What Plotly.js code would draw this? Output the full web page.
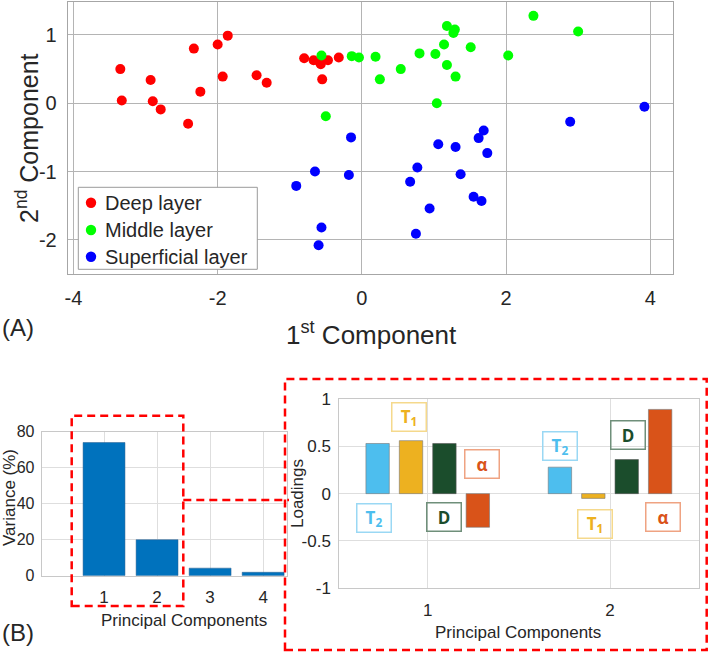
<!DOCTYPE html>
<html>
<head>
<meta charset="utf-8">
<script src="https://cdn.plot.ly/plotly-3.0.1.min.js"></script>
<style>html,body{margin:0;padding:0;background:#fff;}#chart{width:709px;height:655px;}</style>
</head>
<body>
<div id="chart"></div>
<script>
// ---- Data: (A) PCA scores ----
const deepX = [-3.35,-3.33,-2.93,-2.90,-2.79,-2.41,-2.33,-2.24,-2.00,-1.86,-1.93,-1.46,-1.32,-0.80,-0.67,-0.59,-0.57,-0.47,-0.32,-0.55];
const deepY = [0.50,0.04,0.34,0.03,-0.09,-0.30,0.80,0.17,0.86,0.99,0.39,0.41,0.30,0.66,0.63,0.61,0.57,0.63,0.67,0.35];
const middleX = [-0.56,-0.50,-0.14,-0.04,0.19,0.25,0.54,0.80,1.02,1.04,1.14,1.18,1.18,1.29,1.27,1.30,1.51,2.03,2.38,3.00];
const middleY = [0.70,-0.19,0.69,0.67,0.68,0.35,0.50,0.73,0.72,0.00,0.86,0.56,1.13,1.08,1.03,0.39,0.82,0.70,1.28,1.05];
const superX = [-0.91,-0.65,-0.18,-0.15,-0.56,-0.60,1.06,1.30,0.77,0.67,0.94,0.75,1.37,1.55,1.66,1.62,1.69,1.74,2.89,3.92];
const superY = [-1.21,-1.00,-1.05,-0.50,-1.82,-2.08,-0.60,-0.64,-0.94,-1.15,-1.54,-1.91,-1.04,-1.37,-1.43,-0.51,-0.40,-0.73,-0.27,-0.05];
const layerNames = ["Deep layer","Middle layer","Superficial layer"];
const layerColors = ["#FF0000","#00FF00","#0000FF"];

// ---- Data: (B) variance explained ----
const pcs = [1,2,3,4];
const variancePct = [74,20,4.2,1.9];

// ---- Data: (B) loadings ----
const loadPCs = [1,2];
const loadT2 = [0.53,0.28];
const loadT1 = [0.56,-0.05];
const loadD = [0.53,0.36];
const loadAlpha = [-0.355,0.89];
const loadNames = ["T2","T1","D","α"];

// tick labels
const topXTicks = [-4,-2,0,2,4];
const topXLabels = ["-4","-2","0","2","4"];
const topYTicks = [-2,-1,0,1];
const topYLabels = ["-2","-1","0","1"];
const varTicks = [0,20,40,60,80];
const loadTicks = [-1,-0.5,0,0.5,1];
const loadTickLabels = ["-1","-0.5","0","0.5","1"];

const W = 709, H = 655;
const px = v => v / W;
const py = v => 1 - v / H;

const font = "Liberation Sans, Arial, Helvetica, sans-serif";
const txt = "#262626";

const traces = [
  {x: deepX, y: deepY, name: layerNames[0], type: "scatter", mode: "markers",
   marker: {color: layerColors[0], size: 10}, xaxis: "x", yaxis: "y"},
  {x: middleX, y: middleY, name: layerNames[1], type: "scatter", mode: "markers",
   marker: {color: layerColors[1], size: 10}, xaxis: "x", yaxis: "y"},
  {x: superX, y: superY, name: layerNames[2], type: "scatter", mode: "markers",
   marker: {color: layerColors[2], size: 10}, xaxis: "x", yaxis: "y"},
  {x: pcs, y: variancePct, type: "bar", width: 0.79,
   marker: {color: "#0072BD", line: {color: "#2a5f8f", width: 0.5}}, xaxis: "x2", yaxis: "y2"},
  {x: loadPCs, y: loadT2, name: loadNames[0], type: "bar",
   marker: {color: "#4DBEEE", line: {color: "#777", width: 0.6}}, xaxis: "x3", yaxis: "y3"},
  {x: loadPCs, y: loadT1, name: loadNames[1], type: "bar",
   marker: {color: "#EDB120", line: {color: "#777", width: 0.6}}, xaxis: "x3", yaxis: "y3"},
  {x: loadPCs, y: loadD, name: loadNames[2], type: "bar",
   marker: {color: "#1B4D2C", line: {color: "#555", width: 0.6}}, xaxis: "x3", yaxis: "y3"},
  {x: loadPCs, y: loadAlpha, name: loadNames[3], type: "bar",
   marker: {color: "#D95319", line: {color: "#777", width: 0.6}}, xaxis: "x3", yaxis: "y3"}
];

const topAxis = {showgrid: true, gridcolor: "#b4b4b4", showline: true, mirror: true,
  linecolor: "#a6a6a6", linewidth: 1, zeroline: false, ticks: "", tickfont: {size: 20, color: txt}};
const botAxis = {showgrid: true, gridcolor: "#dedede", showline: true, mirror: true,
  linecolor: "#c8c8c8", linewidth: 1, zeroline: false, ticks: "", tickfont: {size: 17, color: txt}};

function boxNote(text, x, y, color, border) {
  return {text: "<b>" + text + "</b>", x: x, y: y, xref: "x3", yref: "y3", showarrow: false,
    font: {family: "Open Sans, Liberation Sans, sans-serif", size: 17, color: color},
    bordercolor: border, borderwidth: 1.5, borderpad: 0, bgcolor: "rgba(255,255,255,0)",
    width: 33, height: 27, align: "center", valign: "middle"};
}

// manual legend (box, symbols, labels) for panel (A)
const legBox = {x0: 78.3, x1: 257.3, y0: 187.3, y1: 269.3};
const legRowsY = [202.7, 230, 256.7];
const legendShapes = [
  {type: "rect", xref: "paper", yref: "paper", x0: px(legBox.x0), x1: px(legBox.x1),
   y0: py(legBox.y1), y1: py(legBox.y0), fillcolor: "#fff", line: {color: "#9a9a9a", width: 1}, layer: "above"}
].concat(layerNames.map((n, i) => ({type: "circle", xref: "paper", yref: "paper",
   x0: px(91 - 5.2), x1: px(91 + 5.2), y0: py(legRowsY[i] + 5.2), y1: py(legRowsY[i] - 5.2),
   fillcolor: layerColors[i], line: {width: 0}, layer: "above"})));
const legendTexts = layerNames.map((n, i) => ({text: n, x: px(102.5), y: py(legRowsY[i]),
   xref: "paper", yref: "paper", xanchor: "left", yanchor: "middle", showarrow: false,
   font: {size: 20, color: txt}}));

const dash = {color: "#FF0000", width: 2.5, dash: "8px,5px"};

const layout = {
  width: W, height: H,
  margin: {l: 0, r: 0, t: 0, b: 0},
  paper_bgcolor: "#fff", plot_bgcolor: "#fff",
  font: {family: font, color: txt},
  barmode: "group", bargap: 0.267, bargroupgap: 0.3,
  showlegend: false,
  xaxis: Object.assign({}, topAxis, {domain: [px(67.7), px(673.3)], range: [-4.08, 4.32],
    tickvals: topXTicks, ticktext: topXLabels, anchor: "y", ticklabelstandoff: 6}),
  yaxis: Object.assign({}, topAxis, {domain: [py(274), py(1.7)], range: [-2.5, 1.487],
    tickvals: topYTicks, ticktext: topYLabels, anchor: "x", ticklabelstandoff: 6}),
  xaxis2: Object.assign({}, botAxis, {domain: [px(41.7), px(287)], range: [-0.175, 4.45],
    tickvals: pcs, anchor: "y2", ticklabelstandoff: 6}),
  yaxis2: Object.assign({}, botAxis, {domain: [py(575.7), py(431.7)], range: [0, 80],
    tickvals: varTicks, anchor: "x2", ticklabelstandoff: 3, tickfont: {size: 16, color: txt}}),
  xaxis3: Object.assign({}, botAxis, {domain: [px(339.3), px(699)], range: [0.515, 2.488],
    tickvals: loadPCs, anchor: "y3", ticklabelstandoff: 6}),
  yaxis3: Object.assign({}, botAxis, {domain: [py(588.3), py(399)], range: [-1, 1],
    tickvals: loadTicks, ticktext: loadTickLabels, anchor: "x3", ticklabelstandoff: 4}),
  shapes: legendShapes.concat([
    {type: "rect", xref: "paper", yref: "paper", x0: px(71.7), x1: px(183.3), y0: py(606), y1: py(415.7),
     line: dash, layer: "above"},
    {type: "line", xref: "paper", yref: "paper", x0: px(183.3), x1: px(289), y0: py(500), y1: py(500),
     line: dash, layer: "above"},
    {type: "rect", xref: "paper", yref: "paper", x0: px(285), x1: px(706.7), y0: py(650), y1: py(379),
     line: dash, layer: "above"}
  ]),
  annotations: legendTexts.concat([
    {text: "(A)", x: px(0), y: py(327), xref: "paper", yref: "paper", xanchor: "left", yanchor: "middle",
     showarrow: false, font: {size: 24, color: txt}},
    {text: "(B)", x: px(0), y: py(632), xref: "paper", yref: "paper", xanchor: "left", yanchor: "middle",
     showarrow: false, font: {size: 24, color: txt}},
    {text: "1<sup>st</sup> Component", x: px(371), y: py(333), xref: "paper", yref: "paper",
     xanchor: "center", yanchor: "middle", showarrow: false, font: {size: 26, color: txt}},
    {text: "2<sup>nd</sup> Component", x: px(27), y: py(138), xref: "paper", yref: "paper",
     xanchor: "center", yanchor: "middle", textangle: -90, showarrow: false, font: {size: 25, color: txt}},
    {text: "Variance (%)", x: px(9), y: py(498), xref: "paper", yref: "paper",
     xanchor: "center", yanchor: "middle", textangle: -90, showarrow: false, font: {size: 17, color: txt}},
    {text: "Principal Components", x: px(184), y: py(620), xref: "paper", yref: "paper",
     xanchor: "center", yanchor: "middle", showarrow: false, font: {size: 17, color: txt}},
    {text: "Loadings", x: px(297), y: py(494), xref: "paper", yref: "paper",
     xanchor: "center", yanchor: "middle", textangle: -90, showarrow: false, font: {size: 17, color: txt}},
    {text: "Principal Components", x: px(518), y: py(632), xref: "paper", yref: "paper",
     xanchor: "center", yanchor: "middle", showarrow: false, font: {size: 17, color: txt}},
    boxNote("T<sub>2</sub>", 0.703, -0.253, "#4DBEEE", "#9ad8f4"),
    boxNote("T<sub>1</sub>", 0.897, 0.806, "#EDB120", "#f5d98c"),
    boxNote("D", 1.089, -0.247, "#1B4D2C", "#6f8f7a"),
    boxNote("α", 1.30, 0.316, "#D95319", "#efa382"),
    boxNote("T<sub>2</sub>", 1.724, 0.503, "#4DBEEE", "#9ad8f4"),
    boxNote("T<sub>1</sub>", 1.920, -0.316, "#EDB120", "#f5d98c"),
    boxNote("D", 2.100, 0.616, "#1B4D2C", "#6f8f7a"),
    boxNote("α", 2.289, -0.247, "#D95319", "#efa382")
  ])
};

Plotly.newPlot("chart", traces, layout, {displayModeBar: false, staticPlot: true});
</script>
</body>
</html>
